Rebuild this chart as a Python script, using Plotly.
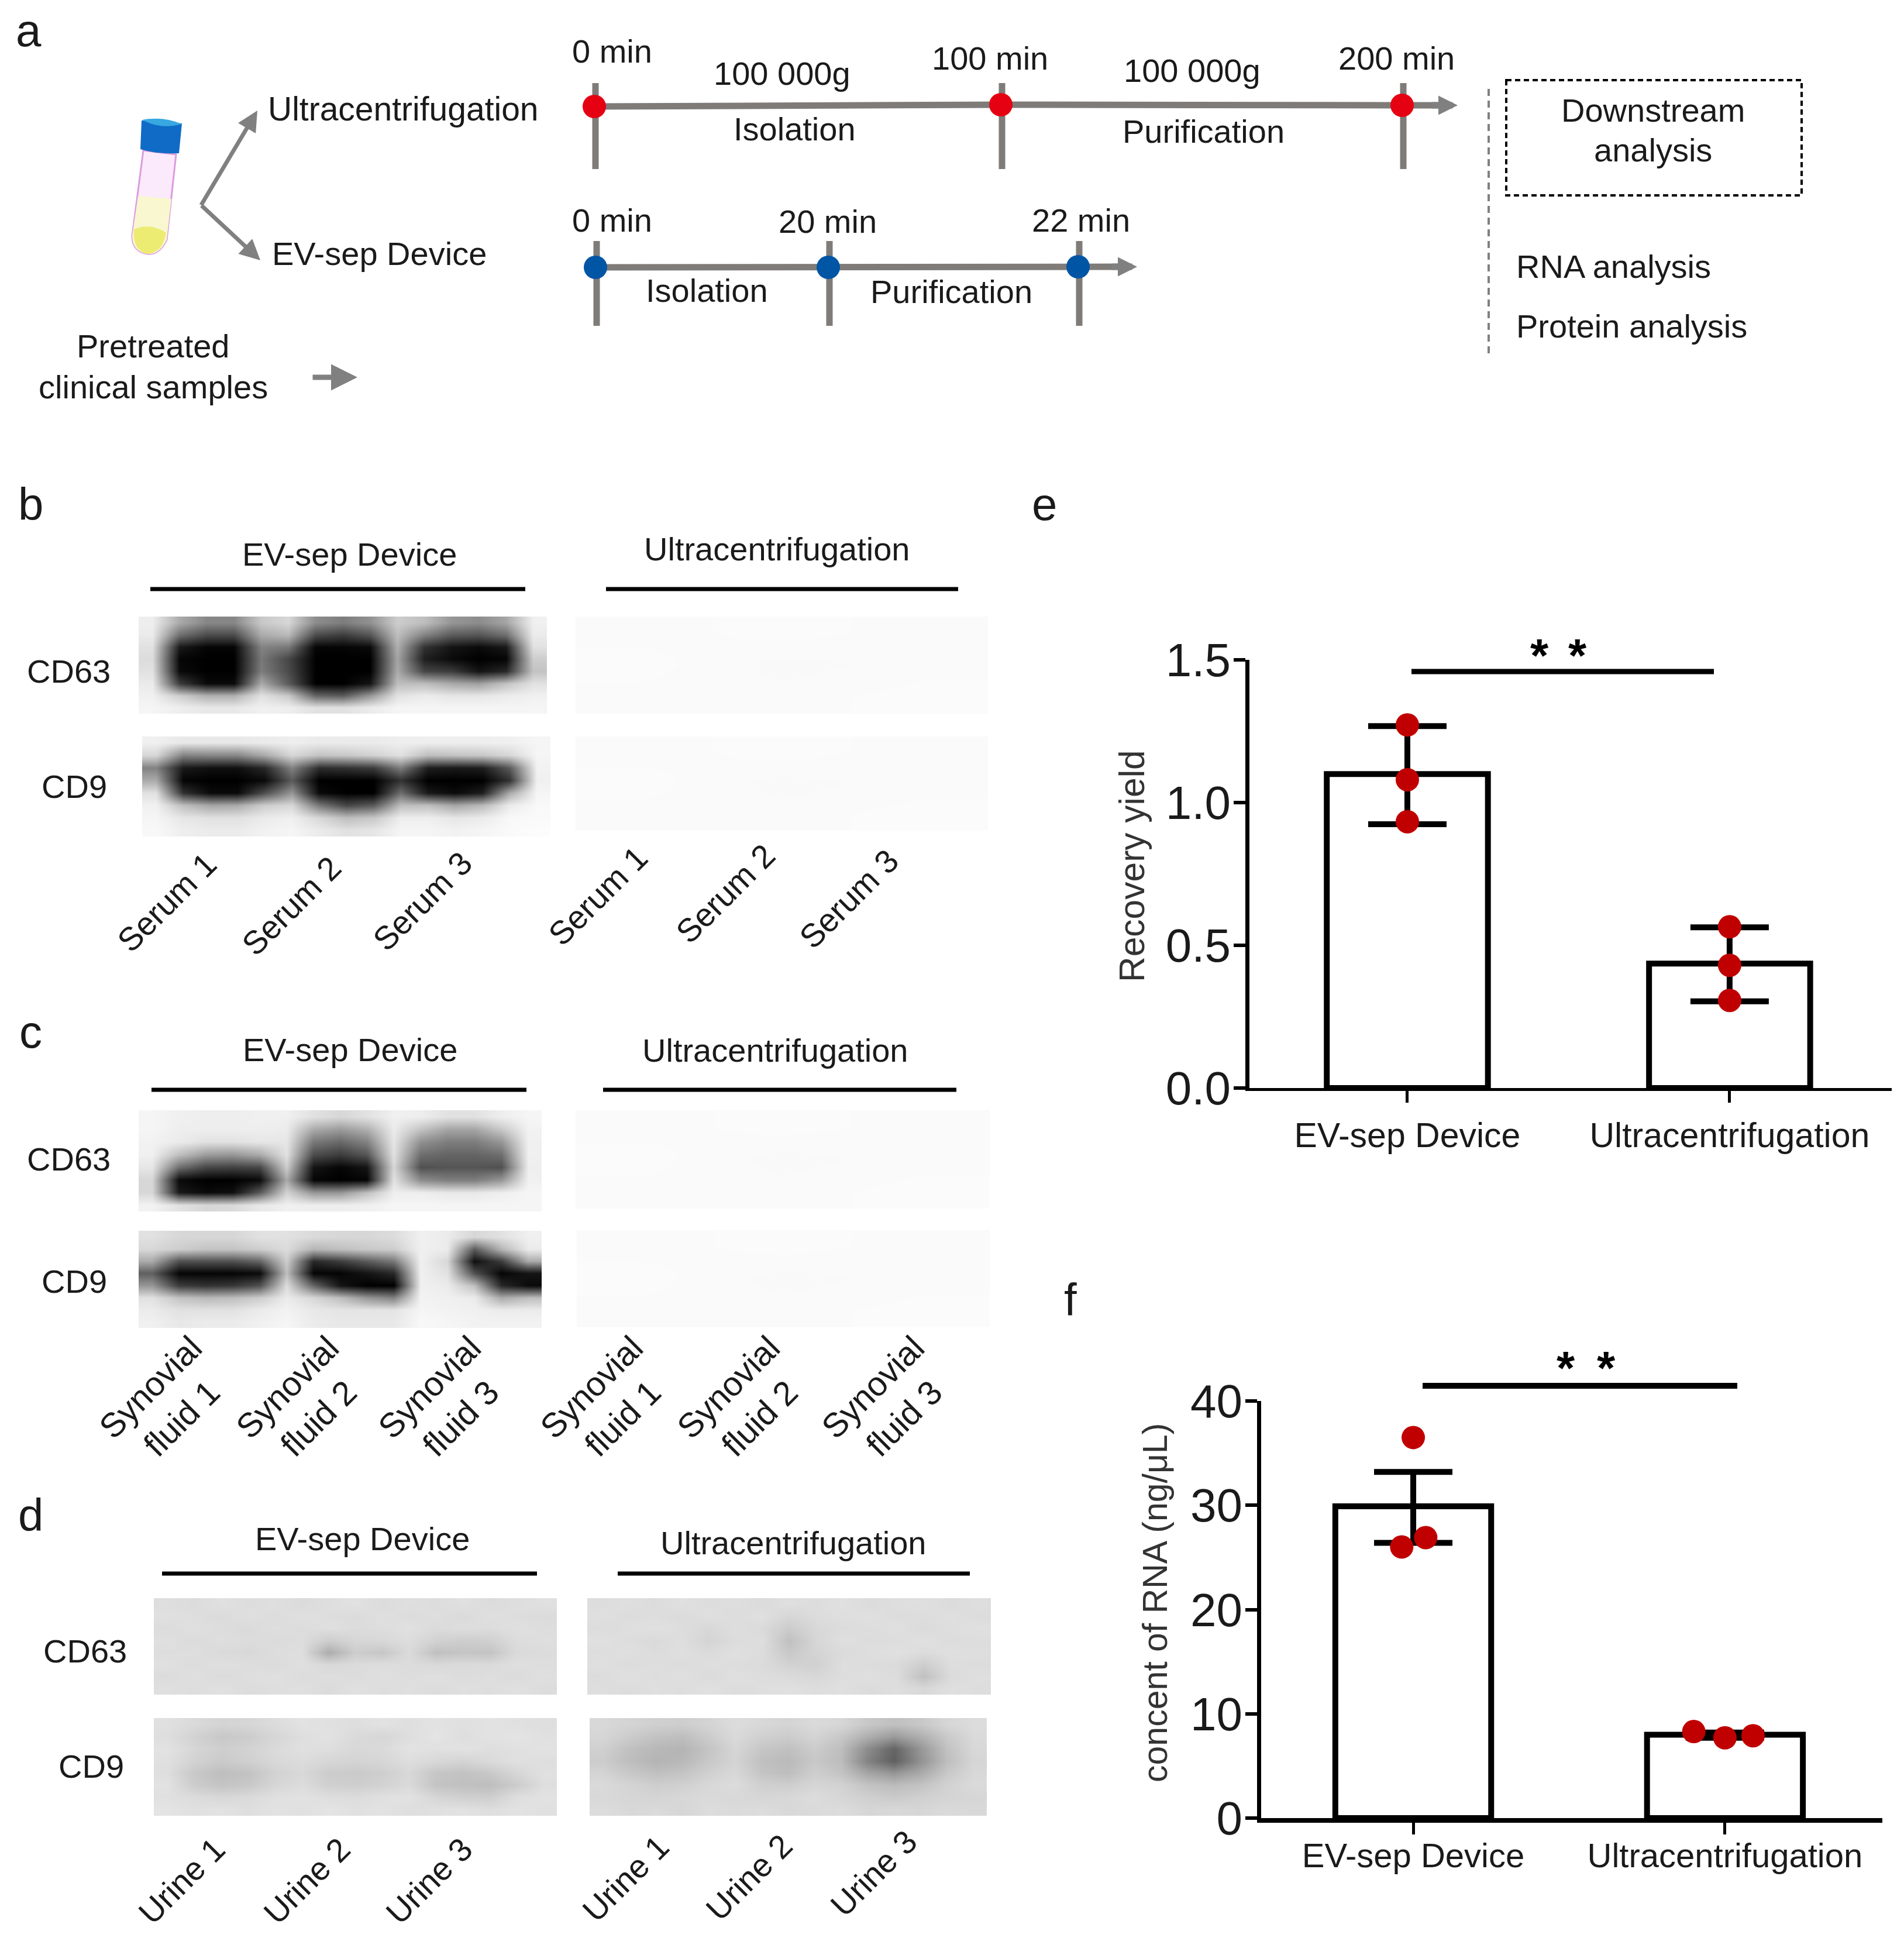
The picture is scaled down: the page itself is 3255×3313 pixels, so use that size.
import numpy as np
import plotly.graph_objects as go

W, H = 3255, 3313
FONT = "Liberation Sans, Arial, sans-serif"
TXT = "#1a1a1a"
GREY = "#7f7b79"
DOT = "#C00000"

# panel e
groups = ["EV-sep Device", "Ultracentrifugation"]
yield_mean = [1.10, 0.436]
yield_up = [0.168, 0.127]
yield_down = [0.176, 0.132]
yield_px = [0, 0, 0, 1, 1, 1]
yield_py = [1.272, 1.08, 0.933, 0.565, 0.43, 0.307]

# panel f
rna_mean = [29.9, 8.0]
rna_up = [3.3, 0.2]
rna_down = [3.5, 0.3]
rna_px = [0.0, 0.04, -0.037, 0.90, 1.0, 1.09]
rna_py = [36.5, 26.9, 26.0, 8.3, 7.7, 7.9]

# panel a timelines
top_x = [1016, 1711, 2397]
top_y = [182, 179, 180]
low_x = [1018, 1416, 1843]
low_y = [457, 457, 456]

# blots, grey levels
b_cd63 = [
    [238, 170, 135, 135, 200, 215, 140, 125, 145, 205, 190, 150, 140, 165, 240],
    [235, 110, 75, 75, 170, 185, 75, 60, 85, 190, 130, 90, 85, 110, 235],
    [225, 25, 5, 5, 130, 120, 5, 5, 10, 175, 50, 20, 10, 25, 225],
    [220, 5, 0, 0, 120, 70, 0, 0, 0, 165, 30, 10, 0, 5, 205],
    [225, 10, 0, 0, 125, 75, 0, 0, 0, 170, 70, 60, 20, 40, 195],
    [235, 60, 10, 10, 170, 90, 0, 0, 20, 190, 190, 170, 160, 195, 225],
    [240, 205, 175, 175, 225, 200, 100, 90, 150, 225, 235, 230, 230, 235, 240],
    [245, 238, 232, 232, 240, 238, 225, 225, 235, 245, 245, 245, 245, 245, 245],
]
b_cd9 = [
    [240, 232, 232, 232, 235, 238, 235, 235, 235, 238, 238, 238, 238, 240, 245],
    [215, 130, 135, 135, 170, 215, 195, 200, 210, 225, 190, 195, 200, 215, 245],
    [130, 25, 15, 15, 40, 130, 45, 50, 60, 125, 30, 25, 30, 90, 242],
    [170, 5, 0, 0, 10, 90, 0, 0, 0, 50, 0, 0, 0, 50, 240],
    [225, 50, 10, 10, 80, 150, 10, 0, 0, 110, 25, 10, 30, 170, 245],
    [240, 190, 165, 170, 205, 215, 120, 70, 90, 190, 190, 165, 185, 235, 248],
    [245, 230, 225, 225, 235, 240, 215, 190, 200, 238, 238, 230, 235, 248, 250],
    [248, 238, 235, 235, 242, 245, 235, 225, 230, 245, 245, 242, 245, 250, 252],
]
c_cd63 = [
    [245, 240, 238, 238, 240, 240, 225, 215, 225, 240, 238, 225, 225, 238, 245],
    [245, 238, 238, 238, 238, 235, 170, 155, 175, 235, 195, 165, 165, 200, 242],
    [242, 235, 225, 225, 230, 230, 120, 105, 130, 230, 145, 125, 125, 150, 240],
    [240, 190, 155, 150, 170, 225, 75, 60, 85, 225, 110, 100, 100, 110, 240],
    [230, 110, 70, 65, 70, 205, 20, 5, 20, 215, 80, 85, 85, 80, 238],
    [215, 10, 0, 0, 10, 170, 5, 0, 5, 225, 140, 125, 125, 150, 240],
    [215, 25, 10, 15, 90, 210, 150, 150, 190, 238, 238, 232, 232, 238, 245],
    [242, 225, 215, 218, 232, 240, 238, 238, 240, 245, 245, 245, 245, 245, 245],
]
c_cd9 = [
    [225, 215, 215, 215, 225, 225, 218, 215, 215, 220, 240, 235, 215, 225, 240],
    [215, 205, 195, 195, 205, 220, 180, 190, 200, 205, 240, 235, 90, 180, 235],
    [170, 80, 80, 80, 100, 205, 40, 60, 90, 120, 240, 215, 15, 60, 170],
    [95, 5, 5, 5, 10, 190, 5, 5, 20, 40, 240, 225, 80, 5, 20],
    [150, 60, 50, 55, 80, 220, 100, 20, 0, 0, 240, 235, 190, 40, 10],
    [225, 195, 185, 190, 205, 235, 215, 190, 150, 130, 242, 240, 235, 170, 190],
    [235, 225, 225, 225, 235, 242, 232, 228, 228, 228, 245, 242, 240, 235, 235],
    [240, 232, 235, 235, 240, 245, 235, 232, 232, 232, 248, 245, 242, 242, 242],
]
d_cd63_l = [
    [222, 220, 224, 221, 223, 219, 222, 225, 220, 223, 221, 224, 220, 222, 224],
    [224, 222, 219, 223, 220, 224, 221, 219, 223, 220, 222, 218, 223, 221, 219],
    [220, 223, 221, 218, 222, 220, 223, 220, 221, 224, 219, 222, 220, 223, 221],
    [223, 219, 222, 220, 219, 221, 205, 214, 216, 221, 210, 205, 208, 220, 222],
    [221, 222, 218, 216, 221, 222, 172, 205, 198, 219, 192, 197, 195, 218, 220],
    [224, 220, 223, 221, 219, 224, 216, 219, 221, 220, 217, 219, 218, 223, 221],
    [220, 223, 219, 222, 224, 220, 222, 220, 223, 221, 224, 220, 222, 219, 223],
    [223, 221, 224, 220, 222, 223, 219, 224, 221, 223, 220, 223, 221, 224, 220],
]
d_cd63_r = [
    [221, 223, 220, 224, 221, 222, 219, 223, 221, 224, 220, 222, 223, 220, 222],
    [223, 220, 222, 219, 223, 220, 224, 214, 220, 222, 224, 220, 221, 223, 220],
    [220, 222, 224, 221, 216, 222, 218, 204, 216, 220, 221, 223, 219, 222, 224],
    [224, 221, 218, 222, 212, 220, 222, 192, 214, 223, 220, 221, 224, 220, 221],
    [221, 223, 220, 223, 219, 224, 220, 200, 212, 219, 222, 224, 220, 223, 222],
    [223, 220, 222, 220, 222, 221, 219, 210, 208, 222, 220, 219, 205, 221, 220],
    [220, 224, 221, 223, 219, 223, 221, 219, 216, 221, 223, 220, 192, 219, 223],
    [222, 220, 223, 221, 224, 220, 222, 224, 221, 223, 219, 222, 216, 223, 221],
]
d_cd9_l = [
    [224, 218, 212, 214, 220, 226, 224, 222, 226, 223, 226, 224, 226, 224, 222],
    [222, 210, 200, 204, 214, 222, 226, 218, 214, 222, 228, 222, 226, 228, 224],
    [226, 214, 206, 210, 218, 224, 222, 216, 218, 226, 224, 226, 222, 224, 226],
    [224, 210, 202, 208, 216, 220, 214, 212, 214, 222, 216, 212, 218, 224, 222],
    [222, 200, 190, 194, 210, 216, 204, 202, 206, 216, 198, 194, 200, 214, 224],
    [226, 204, 196, 200, 214, 220, 208, 206, 210, 218, 196, 192, 190, 204, 222],
    [224, 220, 216, 218, 224, 226, 222, 220, 224, 226, 214, 208, 206, 222, 226],
    [228, 224, 226, 222, 226, 224, 228, 224, 226, 222, 224, 226, 222, 226, 224],
]
d_cd9_r = [
    [216, 212, 208, 206, 212, 220, 216, 212, 218, 214, 200, 192, 200, 214, 220],
    [214, 204, 194, 190, 204, 218, 208, 204, 212, 200, 175, 155, 175, 202, 218],
    [208, 192, 184, 180, 196, 214, 198, 192, 204, 190, 140, 100, 150, 194, 216],
    [204, 190, 180, 184, 200, 212, 192, 186, 200, 188, 130, 95, 145, 190, 214],
    [212, 200, 192, 196, 208, 216, 196, 190, 206, 196, 165, 150, 170, 200, 216],
    [218, 212, 206, 208, 216, 220, 208, 206, 214, 210, 195, 188, 195, 210, 218],
    [216, 214, 212, 216, 218, 216, 214, 216, 220, 214, 208, 202, 208, 212, 214],
    [220, 216, 218, 214, 220, 218, 220, 216, 218, 220, 214, 216, 214, 218, 216],
]
blank = [[250, 251, 250], [251, 249, 250], [250, 250, 251]]

# name, left, right, top, bottom
blots = [
    (b_cd63, 237, 935, 1054, 1220), (blank, 984, 1689, 1054, 1220),
    (b_cd9, 243, 941, 1259, 1430), (blank, 984, 1689, 1259, 1420),
    (c_cd63, 237, 926, 1898, 2071), (blank, 984, 1692, 1898, 2066),
    (c_cd9, 237, 926, 2104, 2270), (blank, 986, 1692, 2103, 2269),
    (d_cd63_l, 263, 952, 2732, 2897), (d_cd63_r, 1004, 1694, 2732, 2897),
    (d_cd9_l, 263, 952, 2937, 3104), (d_cd9_r, 1008, 1687, 2937, 3104),
]

serum_labels = ["Serum 1", "Serum 2", "Serum 3"] * 2
serum_x = [285, 498, 722, 1022, 1240, 1451]
serum_y = [1542, 1548, 1540, 1531, 1527, 1536]
syn_labels = ["Synovial<br>fluid 1", "Synovial<br>fluid 2", "Synovial<br>fluid 3"] * 2
syn_x = [283, 517, 760, 1037, 1271, 1518]
syn_y = [2398, 2398, 2398, 2398, 2398, 2398]
urine_labels = ["Urine 1", "Urine 2", "Urine 3"] * 2
urine_x = [310, 524, 733, 1069, 1280, 1493]
urine_y = [3215, 3215, 3215, 3211, 3209, 3202]

fig = go.Figure()
shapes = []
notes = []


def txt(x, y, s, size=56, angle=0, anchor="center", color=TXT):
    notes.append(dict(x=x, y=y, xref="x3", yref="y3", text=s, showarrow=False,
                      font=dict(family=FONT, size=size, color=color),
                      textangle=angle, xanchor=anchor, yanchor="middle"))


def seg(x0, y0, x1, y1, color="black", w=7, dash=None):
    shapes.append(dict(type="line", x0=x0, y0=y0, x1=x1, y1=y1, xref="x3", yref="y3",
                       line=dict(color=color, width=w, dash=dash), layer="below"))


def arrow(x0, y0, x1, y1, w=7, size=1):
    notes.append(dict(x=x1, y=y1, ax=x0, ay=y0, xref="x3", yref="y3", axref="x3", ayref="y3",
                      text="", showarrow=True, arrowhead=2, arrowsize=size, arrowwidth=w,
                      arrowcolor="#808080"))


def path(d, fill, line="rgba(0,0,0,0)", w=2):
    shapes.append(dict(type="path", path=d, xref="x3", yref="y3", fillcolor=fill,
                       line=dict(color=line, width=w), layer="above"))


# panels e and f
def bars(mean, up, down, px, py, xa, ya):
    fig.add_trace(go.Bar(x=[0, 1], y=mean, width=0.5, xaxis=xa, yaxis=ya,
                         marker=dict(color="white", line=dict(color="black", width=10)),
                         error_y=dict(type="data", array=up, arrayminus=down, color="black",
                                      thickness=10, width=67)))
    fig.add_trace(go.Scatter(x=px, y=py, mode="markers", xaxis=xa, yaxis=ya,
                             marker=dict(color=DOT, size=40)))


bars(yield_mean, yield_up, yield_down, yield_px, yield_py, "x", "y")
bars(rna_mean, rna_up, rna_down, rna_px, rna_py, "x2", "y2")

# blots
for z, x0, x1, y0, y1 in blots:
    z = np.array(z)
    fig.add_trace(go.Heatmap(z=z, x=np.linspace(x0, x1, z.shape[1] + 1), y=np.linspace(y0, y1, z.shape[0] + 1),
                             xaxis="x3", yaxis="y3", zmin=0, zmax=255, zsmooth="best", showscale=False,
                             colorscale=[[0, "black"], [1, "white"]]))

# panel a timelines
for xs, ys, tip, col, ends in [(top_x, top_y, 2492, "#E50012", (142, 289)),
                               (low_x, low_y, 1944, "#0055A5", (412, 557))]:
    for vx in xs:
        seg(vx + 2, ends[0], vx + 2, ends[1], GREY, 11)
    fig.add_trace(go.Scatter(x=xs + [tip - 25], y=ys + [ys[-1]], mode="lines", xaxis="x3", yaxis="y3",
                             line=dict(color=GREY, width=11)))
    fig.add_trace(go.Scatter(x=xs, y=ys, mode="markers", xaxis="x3", yaxis="y3",
                             marker=dict(color=col, size=40)))
    arrow(tip - 45, ys[-1], tip, ys[-1], 11, 0.6)

# tube
path("M 245 257 L 301 264 L 285 410 Q 272 436 252 434 Q 226 430 226 403 Z", "#fbeafb", "#dc9ce0", 3)
path("M 236 335 L 293 340 L 285 410 Q 272 436 252 434 Q 226 430 226 403 Z", "#f8f7cf")
path("M 229 392 Q 256 380 284 398 Q 278 432 252 434 Q 226 428 229 392 Z", "#ecec72")
path("M 242 206 L 311 211 L 306 262 Q 270 264 240 255 Z", "#0f6bc6")
path("M 243 205 Q 278 198 311 212 Q 276 222 243 205 Z", "#38a8e0")
arrow(343, 352, 440, 189)
arrow(343, 350, 445, 445)
arrow(533, 645, 611, 645, 9)

txt(49, 52, "a", 78)
txt(689, 186, "Ultracentrifugation", 57)
txt(648, 433, "EV-sep Device", 56)
txt(262, 591, "Pretreated", 56)
txt(262, 661, "clinical samples", 56)
for x, y, s in [(1046, 87, "0 min"), (1337, 125, "100 000g"), (1692, 99, "100 min"),
                (2038, 120, "100 000g"), (2387, 99, "200 min"), (1358, 220, "Isolation"),
                (2057, 224, "Purification"), (1046, 376, "0 min"), (1415, 378, "20 min"),
                (1848, 376, "22 min"), (1208, 496, "Isolation"), (1626, 498, "Purification"),
                (2826, 188, "Downstream"), (2826, 256, "analysis")]:
    txt(x, y, s)
txt(2590, 455, "RNA analysis", anchor="left")
txt(2590, 557, "Protein analysis", anchor="left")
seg(2545, 152, 2545, 608, "#808080", 4, "12px,8px")
shapes.append(dict(type="rect", x0=2575, y0=137, x1=3080, y1=334, xref="x3", yref="y3",
                   line=dict(color="black", width=4, dash="9px,6px")))

# blot headers and labels
heads = [(597, 947, 1328, 938, 257, 898, 1036, 1638, 1007),
         (598, 1794, 1325, 1795, 259, 900, 1031, 1635, 1863),
         (619, 2630, 1356, 2637, 277, 918, 1056, 1658, 2690)]
for xl, yl, xr, yr, a0, a1, b0, b1, ly in heads:
    txt(xl, yl, "EV-sep Device", 56)
    txt(xr, yr, "Ultracentrifugation", 56)
    seg(a0, ly, a1, ly, "black", 7)
    seg(b0, ly, b1, ly, "black", 7)
for x, y, s in [(117, 1147, "CD63"), (127, 1344, "CD9"), (117, 1981, "CD63"), (127, 2190, "CD9"),
                (145, 2822, "CD63"), (156, 3019, "CD9")]:
    txt(x, y, s, 56)
for labs, xs, ys, fs in [(serum_labels, serum_x, serum_y, 56), (syn_labels, syn_x, syn_y, 58),
                         (urine_labels, urine_x, urine_y, 56)]:
    for s, x, y in zip(labs, xs, ys):
        txt(x, y, s, fs, angle=-45)

for x, y, s in [(52, 862, "b"), (52, 1764, "c"), (52, 2590, "d"), (1785, 862, "e"), (1830, 2222, "f")]:
    txt(x, y, s, 78)

# significance bars
seg(2413, 1148, 2930, 1148, "black", 9)
seg(2432, 2369, 2970, 2369, "black", 10)
for x, y in [(2632, 1120), (2697, 1120), (2677, 2338), (2746, 2338)]:
    txt(x, y, "<b>*</b>", 80, color="black")
txt(1935, 1481, "Recovery yield", 60.5, angle=-90, color="#333333")
txt(1975, 2740, "concent of RNA (ng/μL)", 59, angle=-90, color="#333333")


def dx(a, b):
    return [a / W, b / W]


def dy(top, bottom):
    return [1 - bottom / H, 1 - top / H]


def xax(domain, anchor, lw, rng, fsize, standoff):
    return dict(domain=domain, anchor=anchor, range=rng, tickvals=[0, 1], ticktext=groups,
                ticks="outside", ticklen=20, tickwidth=5, tickcolor="black", showline=True, linecolor="black",
                linewidth=lw, showgrid=False, zeroline=False, ticklabelstandoff=standoff,
                tickfont=dict(family=FONT, size=fsize, color=TXT))


def yax(domain, anchor, rng, vals, fmt):
    return dict(domain=domain, anchor=anchor, range=rng, tickvals=vals, tickformat=fmt,
                ticks="outside", ticklen=20, tickwidth=6, tickcolor="black", showline=True, linecolor="black",
                linewidth=7, showgrid=False, zeroline=False, ticklabelstandoff=-11,
                tickfont=dict(family=FONT, size=80, color=TXT))


fig.update_layout(
    width=W, height=H, autosize=False, margin=dict(l=0, r=0, t=0, b=0, pad=0),
    paper_bgcolor="white", plot_bgcolor="rgba(0,0,0,0)", template=None, showlegend=False, barmode="overlay",
    xaxis=xax(dx(2136, 3234), "y", 5, [-0.49, 1.503], 59, 5),
    yaxis=yax(dy(1128, 1860), "x", [0, 1.5], [0, 0.5, 1.0, 1.5], ".1f"),
    xaxis2=xax(dx(2156, 3218), "y2", 8, [-0.488, 1.505], 58, -14),
    yaxis2=yax(dy(2395, 3108), "x2", [0, 40], [0, 10, 20, 30, 40], "d"),
    xaxis3=dict(domain=[0, 1], anchor="y3", range=[0, W], visible=False),
    yaxis3=dict(domain=[0, 1], anchor="x3", range=[H, 0], visible=False),
    shapes=shapes, annotations=notes,
)
fig.write_html("out.html", config={"displayModeBar": False}, post_script="document.body.style.margin='0';")
